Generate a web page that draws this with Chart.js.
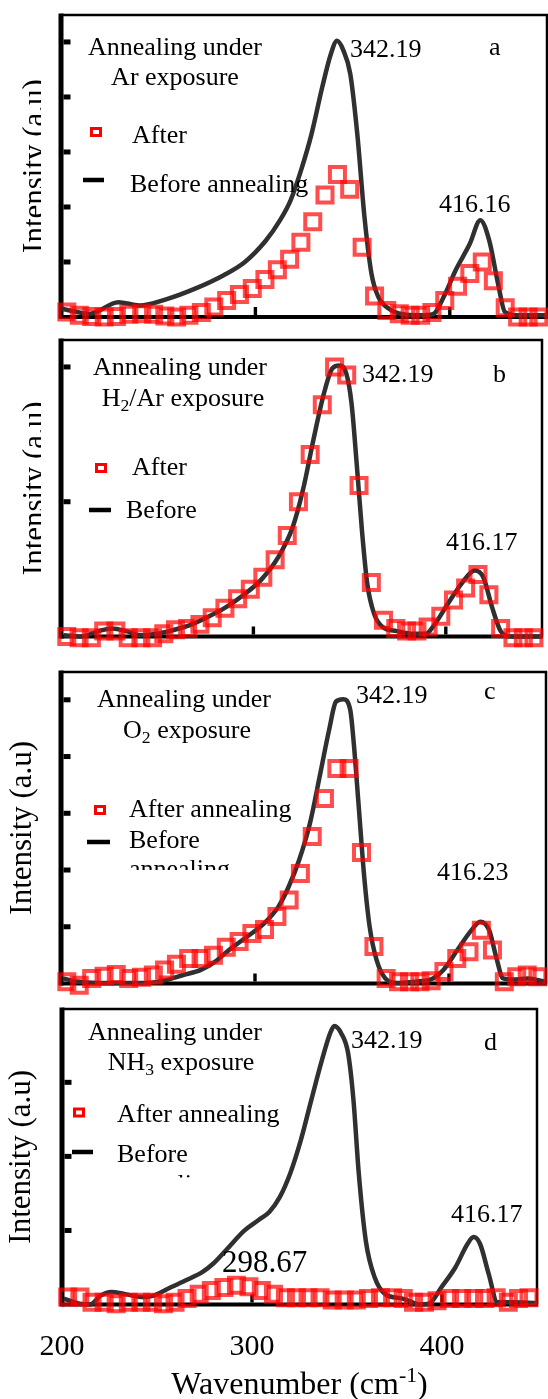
<!DOCTYPE html>
<html>
<head>
<meta charset="utf-8">
<script src="https://cdn.jsdelivr.net/npm/chart.js@4.4.1/dist/chart.umd.min.js"></script>
<style>
  html, body { margin: 0; padding: 0; background: #fff; }
  body { width: 548px; height: 1399px; position: relative; overflow: hidden; }
  canvas { position: absolute; left: 0; }
</style>
</head>
<body>
<canvas id="pa" width="548" height="335" style="top:0px"></canvas>
<canvas id="pb" width="548" height="330" style="top:335px"></canvas>
<canvas id="pc" width="548" height="335" style="top:665px"></canvas>
<canvas id="pd" width="548" height="399" style="top:1000px"></canvas>
<script>
// wavenumber (cm-1) of the "after annealing" scans, same grid in every panel
const afterX = [203, 209.4, 215.8, 222.2, 228.5, 234.9, 241.5, 247.6, 253.4, 259.5,
  265.8, 272.2, 278.6, 285.2, 291.8, 298.4, 304.9, 311.3, 317.6, 323.4,
  329.5, 335.8, 342.2, 348.5, 354.9, 361.3, 367.6, 374, 379.6, 385,
  390.8, 397.4, 404, 410.3, 416.7, 422.4, 428.5, 434.9, 440.3, 445.8];

// intensities (a.u.) after annealing
const afterA = [0.09, 0.03, 0.01, 0, 0.01, 0.05, 0.06, 0.05, 0.02, 0,
  0.03, 0.08, 0.18, 0.3, 0.41, 0.52, 0.68, 0.86, 1.05, 1.36,
  1.73, 2.22, 2.59, 2.32, 1.27, 0.38, 0.12, 0.06, 0.03, 0.03,
  0.08, 0.3, 0.56, 0.79, 1.0, 0.66, 0.17, 0, 0, 0];
const afterB = [0, -0.01, -0.01, 0.04, 0.04, -0.01, -0.01, -0.01, 0.02, 0.05,
  0.06, 0.09, 0.14, 0.21, 0.28, 0.35, 0.44, 0.57, 0.75, 1.0,
  1.35, 1.72, 2.0, 1.94, 1.12, 0.4, 0.12, 0.06, 0.04, 0.04,
  0.07, 0.15, 0.27, 0.36, 0.46, 0.31, 0.06, -0.01, -0.01, -0.01];
const afterC = [0.03, -0.03, 0.09, 0.13, 0.16, 0.09, 0.11, 0.15, 0.24, 0.34,
  0.44, 0.44, 0.5, 0.64, 0.74, 0.88, 0.95, 1.18, 1.47, 1.94,
  2.59, 3.26, 3.79, 3.79, 2.31, 0.65, 0.09, 0.03, 0.03, 0.03,
  0.05, 0.21, 0.44, 0.56, 0.94, 0.59, 0.03, 0.12, 0.15, 0.12];
const afterD = [0.1, 0.1, 0.03, 0.03, 0.01, 0.03, 0.03, 0.03, 0.01, 0.03,
  0.08, 0.14, 0.19, 0.23, 0.26, 0.24, 0.19, 0.14, 0.09, 0.09,
  0.09, 0.09, 0.06, 0.06, 0.06, 0.08, 0.09, 0.09, 0.08, 0.03,
  0.03, 0.05, 0.08, 0.08, 0.08, 0.08, 0.09, 0.03, 0.08, 0.09];

// "before annealing" spectra
const beforeAX = [200.2, 215, 229.5, 240.3, 254.8, 269.3, 283.7, 294.6, 305.4, 312.7,
  318.1, 323.5, 328.9, 334.4, 338.9, 342, 345.2, 348.8, 352.4, 356.1,
  359.7, 363.3, 368.7, 375.9, 385, 391.3, 397.6, 403, 410.3, 415.7,
  420.3, 424.8, 428.4, 435.6, 450];
const beforeAY = [0.15, 0.06, 0.27, 0.21, 0.33, 0.52, 0.76, 1.0, 1.39, 1.76,
  2.12, 2.67, 3.33, 4.18, 4.79, 5.02, 4.85, 4.42, 3.33, 1.82,
  0.79, 0.36, 0.15, 0.05, 0.03, 0.05, 0.42, 0.85, 1.33, 1.76,
  1.39, 0.61, 0.09, 0.03, 0.03];
const beforeBX = [201.4, 210.5, 219.5, 226.7, 233.9, 241, 250, 259, 268, 277,
  286, 295, 304, 313, 320.4, 325.8, 331.2, 336.6, 341.1, 344.7,
  348.3, 351, 353.7, 356.4, 359.1, 362.7, 367.2, 374.4, 383.4, 389.7,
  394.2, 401.4, 408.6, 415, 419.5, 424, 428.5, 433.9, 450];
const beforeBY = [0.01, 0, 0.04, 0.06, 0.04, 0.01, 0.02, 0.05, 0.09, 0.15,
  0.22, 0.31, 0.42, 0.59, 0.81, 1.09, 1.46, 1.8, 1.99, 2.01,
  1.95, 1.73, 1.28, 0.79, 0.4, 0.17, 0.07, 0.04, 0.02, 0.02,
  0.09, 0.25, 0.4, 0.49, 0.44, 0.22, 0.04, 0, 0];
const beforeCX = [201, 208.7, 219.6, 232.2, 244.9, 254, 263, 272.1, 279.3, 286.6,
  295.7, 304.7, 312, 317.4, 322.8, 328.3, 333.7, 338.2, 341.8, 345.5,
  349.1, 350.9, 353.6, 356.3, 359.1, 362.7, 367.2, 373.6, 382.6, 391.7,
  397.1, 404.3, 411.6, 416.1, 420.7, 424.3, 427.9, 433.3, 440.6, 449.6];
const beforeCY = [0.09, 0.03, 0.01, 0.01, 0.01, 0.06, 0.15, 0.24, 0.38, 0.59,
  0.82, 1.06, 1.35, 1.71, 2.18, 2.82, 3.71, 4.47, 4.97, 5.01,
  4.82, 4.24, 3.06, 1.88, 1.0, 0.41, 0.09, 0.01, 0.03, 0.09,
  0.24, 0.59, 0.94, 1.09, 0.94, 0.47, 0.09, 0.07, 0.09, 0.03];
const beforeDX = [200.9, 209.2, 214.8, 220.3, 225.9, 233.3, 242.5, 248.1, 255.5, 264.7,
  274, 279.5, 286.9, 296.1, 303.5, 309.1, 314.6, 320.1, 325.7, 331.2,
  336.8, 341.4, 343.3, 347, 350.6, 353.4, 356.2, 359.9, 364.5, 370.1,
  379.3, 388.5, 393.2, 399.6, 407, 413.5, 416.6, 420, 424.6, 429.2,
  436.6, 450];
const beforeDY = [0.08, 0.01, 0, 0.12, 0.17, 0.14, 0.1, 0.12, 0.21, 0.32,
  0.44, 0.55, 0.75, 1.0, 1.14, 1.25, 1.45, 1.77, 2.22, 2.76,
  3.3, 3.68, 3.76, 3.66, 3.39, 2.76, 1.77, 0.86, 0.37, 0.14,
  0.08, 0, 0.01, 0.23, 0.5, 0.82, 0.91, 0.82, 0.41, 0.03,
  0.03, 0.02];

// axis ticks
const xTickValues = [200, 300, 400];
const xTickLabels = ['200', '300', '400'];
const yTicksA = [1, 2, 3, 4, 5];
const yTicksB = [1, 2];
const yTicksC = [1, 2, 3, 4, 5];
const yTicksD = [1, 2, 3];

const SERIF = "'Liberation Serif', 'Times New Roman', serif";
const font = (s) => s + 'px ' + SERIF;

// layout of each panel (page coordinates, canvas offset in "top")
const panels = {
  pa: {
    top: 0, pad: { left: 61, right: 1, top: 15, bottom: 18 }, yMax: 5.49, yTicks: yTicksA,
    after: afterA, bx: beforeAX, by: beforeAY,
    yTitle: { x: 44, clip: 41 },
    texts: [
      { parts: [['Annealing under']], x: 175, y: 55, align: 'center' },
      { parts: [['Ar exposure']], x: 175, y: 85, align: 'center' },
      { parts: [['342.19']], x: 350, y: 57 },
      { parts: [['a']], x: 489, y: 55 },
      { parts: [['416.16']], x: 439, y: 212 }
    ],
    legend: { sq: [96, 132], after: ['After', 132, 143], line: [83, 104, 180], before: ['Before annealing', 130, 192] }
  },
  pb: {
    top: 335, pad: { left: 61, right: 6, top: 5, bottom: 28.5 }, yMax: 2.2, yTicks: yTicksB,
    after: afterB, bx: beforeBX, by: beforeBY,
    yTitle: { x: 44, clip: 41 },
    texts: [
      { parts: [['Annealing under']], x: 180, y: 375, align: 'center' },
      { parts: [['H'], ['2', 'sub'], ['/Ar exposure']], x: 183, y: 406, align: 'center' },
      { parts: [['342.19']], x: 362, y: 382 },
      { parts: [['b']], x: 493, y: 382 },
      { parts: [['416.17']], x: 446, y: 550 }
    ],
    legend: { sq: [101, 468], after: ['After', 132, 475], line: [89, 111, 510], before: ['Before', 126, 518] }
  },
  pc: {
    top: 665, pad: { left: 61, right: 2, top: 7, bottom: 16.5 }, yMax: 5.49, yTicks: yTicksC,
    after: afterC, bx: beforeCX, by: beforeCY,
    yTitle: { x: 31, clip: null },
    texts: [
      { parts: [['Annealing under']], x: 184, y: 707, align: 'center' },
      { parts: [['O'], ['2', 'sub'], [' exposure']], x: 187, y: 738, align: 'center' },
      { parts: [['342.19']], x: 356, y: 703 },
      { parts: [['c']], x: 484, y: 699 },
      { parts: [['416.23']], x: 437, y: 880 }
    ],
    legend: { sq: [100, 810], after: ['After annealing', 129, 817], line: [87, 110, 842], before: ['Before', 129, 848],
      more: ['annealing', 129, 877, 870] }
  },
  pd: {
    top: 1000, pad: { left: 62, right: 11, top: 9, bottom: 94.5 }, yMax: 3.99, yTicks: yTicksD,
    after: afterD, bx: beforeDX, by: beforeDY,
    yTitle: { x: 29.5, clip: null },
    texts: [
      { parts: [['Annealing under']], x: 175, y: 1040, align: 'center' },
      { parts: [['NH'], ['3', 'sub'], [' exposure']], x: 181, y: 1070, align: 'center' },
      { parts: [['342.19']], x: 351, y: 1048 },
      { parts: [['d']], x: 484, y: 1050 },
      { parts: [['416.17']], x: 451, y: 1222 },
      { parts: [['298.67']], x: 222, y: 1272, size: 31 }
    ],
    legend: { sq: [79, 1112.5], after: ['After annealing', 117, 1122], line: [72, 93, 1152], before: ['Before', 117, 1162],
      more: ['annealing', 117, 1192, 1177.5] },
    xAxis: true
  }
};

// text made of plain / sub / sup pieces
function drawRich(ctx, parts, x, y, size, align) {
  const sizeOf = (p) => p[1] ? size * 0.68 : size;
  let w = 0;
  parts.forEach(p => { ctx.font = font(sizeOf(p)); w += ctx.measureText(p[0]).width; });
  let cx = align === 'center' ? x - w / 2 : x;
  parts.forEach(p => {
    ctx.font = font(sizeOf(p));
    const dy = p[1] === 'sub' ? size * 0.2 : p[1] === 'sup' ? -size * 0.36 : 0;
    ctx.fillText(p[0], cx, y + dy);
    cx += ctx.measureText(p[0]).width;
  });
}

const decor = {
  id: 'decor',
  beforeDatasetsDraw(chart) {
    const spec = panels[chart.canvas.id];
    const { ctx, chartArea: ca } = chart;
    const xs = chart.scales.x, ys = chart.scales.y;
    ctx.save();
    ctx.fillStyle = '#000';
    ctx.strokeStyle = '#000';
    // thin top / right frame
    ctx.lineWidth = 2.5;
    ctx.beginPath();
    ctx.moveTo(ca.left, ca.top);
    ctx.lineTo(ca.right, ca.top);
    ctx.lineTo(ca.right, ca.bottom);
    ctx.stroke();
    // thick axes
    ctx.fillRect(ca.left - 2.5, ca.top - 1.5, 5, ca.bottom - ca.top + 3.5);
    ctx.fillRect(ca.left, ca.bottom - 2, ca.right - ca.left + 1, 4);
    // inward ticks
    spec.yTicks.forEach(v => {
      const py = ys.getPixelForValue(v);
      ctx.fillRect(ca.left + 2.5, py - 2.5, 7, 5);
    });
    xTickValues.forEach(v => {
      if (v <= xs.min) return;
      const px = xs.getPixelForValue(v);
      ctx.fillRect(px - 1.7, ca.bottom - 10, 3.4, 8);
    });
    ctx.restore();
  },
  afterDatasetsDraw(chart) {
    const spec = panels[chart.canvas.id];
    const { ctx, chartArea: ca } = chart;
    const off = spec.top;
    ctx.save();
    ctx.fillStyle = '#000';
    ctx.textBaseline = 'alphabetic';
    ctx.textAlign = 'left';

    spec.texts.forEach(t => drawRich(ctx, t.parts, t.x, t.y - off, t.size || 26, t.align));

    // legend
    const lg = spec.legend;
    ctx.strokeStyle = '#ff0000';
    ctx.lineWidth = 3;
    ctx.strokeRect(lg.sq[0] - 4.5, lg.sq[1] - off - 3.5, 9, 7);
    ctx.fillRect(lg.line[0], lg.line[2] - off - 2.25, lg.line[1] - lg.line[0], 4.5);
    ctx.font = font(26);
    ctx.fillText(lg.after[0], lg.after[1], lg.after[2] - off);
    ctx.fillText(lg.before[0], lg.before[1], lg.before[2] - off);
    if (lg.more) {
      ctx.save();
      ctx.beginPath();
      ctx.rect(0, 0, chart.width, lg.more[3] - off);
      ctx.clip();
      ctx.fillText(lg.more[0], lg.more[1], lg.more[2] - off);
      ctx.restore();
    }

    // y title (clipped on the first two panels)
    ctx.save();
    if (spec.yTitle.clip) {
      ctx.beginPath();
      ctx.rect(0, 0, spec.yTitle.clip, chart.height);
      ctx.clip();
    }
    ctx.translate(spec.yTitle.x, (ca.top + ca.bottom) / 2);
    ctx.rotate(-Math.PI / 2);
    ctx.textAlign = 'center';
    ctx.font = font(31);
    ctx.fillText('Intensity (a.u)', 0, 0);
    ctx.restore();

    if (spec.xAxis) {
      const xs = chart.scales.x;
      ctx.font = font(30);
      ctx.textAlign = 'center';
      xTickValues.forEach((v, i) => ctx.fillText(xTickLabels[i], xs.getPixelForValue(v), 1355 - off));
      ctx.textAlign = 'left';
      drawRich(ctx, [['Wavenumber (cm'], ['-1', 'sup'], [')']], (ca.left + ca.right) / 2, 1394 - off, 32, 'center');
    }
    ctx.restore();
  }
};

Object.keys(panels).forEach(id => {
  const spec = panels[id];
  new Chart(document.getElementById(id), {
    type: 'scatter',
    data: {
      datasets: [
        {
          label: 'After annealing',
          data: spec.after.map((v, i) => ({ x: afterX[i], y: v })),
          showLine: false,
          pointStyle: 'rect',
          pointRadius: 10.6,
          pointBorderWidth: 4,
          pointBorderColor: 'rgba(255,0,0,0.7)',
          pointBackgroundColor: 'rgba(0,0,0,0)',
          clip: false
        },
        {
          label: 'Before annealing',
          data: spec.bx.map((v, i) => ({ x: v, y: spec.by[i] })),
          showLine: true,
          borderColor: '#303030',
          borderWidth: 4.5,
          pointRadius: 0,
          cubicInterpolationMode: 'monotone',
          fill: false,
          clip: false
        }
      ]
    },
    options: {
      responsive: false,
      animation: false,
      devicePixelRatio: 1,
      events: [],
      layout: { padding: spec.pad, autoPadding: false },
      plugins: { legend: { display: false }, tooltip: { enabled: false } },
      scales: {
        x: {
          type: 'linear', min: 200, max: 450,
          grid: { display: false, drawTicks: false },
          border: { display: false },
          ticks: { display: false }
        },
        y: {
          type: 'linear', min: 0, max: spec.yMax,
          grid: { display: false, drawTicks: false },
          border: { display: false },
          ticks: { display: false }
        }
      }
    },
    plugins: [decor]
  });
});
</script>
</body>
</html>
